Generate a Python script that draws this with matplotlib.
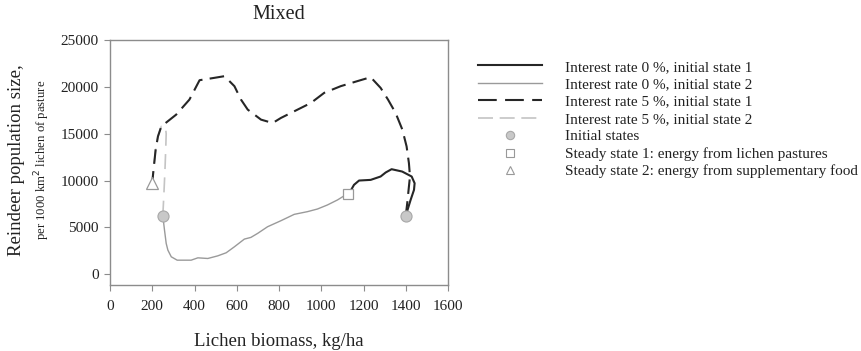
import matplotlib
matplotlib.use("Agg")
import matplotlib.pyplot as plt
from matplotlib.lines import Line2D

plt.rcParams['font.family'] = ['Liberation Serif', 'DejaVu Serif']

# Interest rate 0 %, initial state 1 (black solid)
r0s1_x = [1400, 1423, 1439, 1442, 1428, 1383, 1333, 1305, 1281, 1234, 1179, 1155, 1137, 1125]
r0s1_y = [6250, 7930, 9000, 9710, 10430, 10960, 11210, 10860, 10430, 10070, 10000, 9540, 8820, 8600]

# Interest rate 0 %, initial state 2 (gray solid)
r0s2_x = [250, 258, 266, 274, 290, 318, 384, 416, 463, 510, 550, 589, 636, 667, 699, 746,
          809, 872, 935, 982, 1029, 1077, 1125]
r0s2_y = [6250, 4710, 3290, 2570, 1860, 1500, 1500, 1750, 1680, 1960, 2290, 2930, 3750, 3930,
          4360, 5070, 5710, 6390, 6680, 6960, 7390, 7930, 8600]

# Interest rate 5 %, initial state 1 (black dashed)
r5s1_x = [1400, 1407, 1415, 1420, 1415, 1404, 1384, 1352, 1316, 1281, 1234, 1171, 1092, 1014,
          951, 872, 809, 770, 715, 652, 620, 589, 542, 494, 424, 376, 313, 243, 227, 216, 206, 200]
r5s1_y = [6250, 7570, 9360, 10430, 11860, 13640, 15430, 17210, 18640, 19890, 21030, 20610,
          20070, 19360, 18280, 17390, 16680, 16140, 16500, 17570, 18640, 20070, 21140, 20960,
          20710, 18640, 17030, 15780, 14710, 13280, 11140, 9790]

# Interest rate 5 %, initial state 2 (gray dashed)
r5s2_x = [250, 255, 260, 264, 266, 262, 243, 227, 216, 206, 200]
r5s2_y = [6250, 8500, 11000, 13500, 15000, 15800, 15780, 14710, 13280, 11140, 9790]

initial_x = [1400, 250]
initial_y = [6250, 6250]
steady1_x = [1125]
steady1_y = [8600]
steady2_x = [200]
steady2_y = [9790]

fig = plt.figure(figsize=(8.61, 3.51), dpi=100)
ax = fig.add_axes([110/861, 1-285/351, (448-110)/861, (285-40)/351])

c_black = '#262626'
c_gray = '#9a9a9a'
c_lgray = '#c4c4c4'

ax.plot(r5s2_x, r5s2_y, color=c_lgray, lw=1.2, dashes=(9, 5))
ax.plot(r0s2_x, r0s2_y, color=c_gray, lw=1.0)
ax.plot(r5s1_x, r5s1_y, color=c_black, lw=1.5, dashes=(7, 3.5))
ax.plot(r0s1_x, r0s1_y, color=c_black, lw=1.5)
ax.plot(initial_x, initial_y, 'o', ms=8, mfc='#c8c8c8', mec='#a8a8a8', mew=0.8, zorder=5)
ax.plot(steady1_x, steady1_y, 's', ms=7, mfc='white', mec='#999999', mew=0.9, zorder=5)
ax.plot(steady2_x, steady2_y, '^', ms=8, mfc='white', mec='#999999', mew=0.9, zorder=5)

ax.set_xlim(0, 1600)
ax.set_ylim(-1150, 25000)
ax.set_xticks(range(0, 1601, 200))
ax.set_yticks(range(0, 25001, 5000))
for s in ax.spines.values():
    s.set_color('#8c8c8c')
    s.set_linewidth(1.0)
ax.tick_params(direction='out', length=4, color='#8c8c8c', labelsize=11, labelcolor='#222222')
ax.tick_params(axis='x', pad=7)
ax.tick_params(axis='y', pad=4)

ax.set_title('Mixed', fontsize=14.5, color='#222222', pad=15)
ax.set_xlabel('Lichen biomass, kg/ha', fontsize=13.5, color='#222222', labelpad=14)
fig.text(17/861, 1-160/351, 'Reindeer population size,', rotation=90, ha='center', va='center',
         fontsize=13.5, color='#222222')
fig.text(42/861, 1-160/351, 'per 1000 km$^2$ lichen of pasture', rotation=90, ha='center',
         va='center', fontsize=9.2, color='#222222')

handles = [
    Line2D([], [], color=c_black, lw=1.5),
    Line2D([], [], color=c_gray, lw=1.0),
    Line2D([], [], color=c_black, lw=1.5, dashes=(9, 4)),
    Line2D([], [], color=c_lgray, lw=1.2, dashes=(9, 4)),
    Line2D([], [], ls='none', marker='o', ms=6, mfc='#c8c8c8', mec='#a8a8a8', mew=0.8),
    Line2D([], [], ls='none', marker='s', ms=5.5, mfc='white', mec='#999999', mew=0.8),
    Line2D([], [], ls='none', marker='^', ms=6, mfc='white', mec='#999999', mew=0.8),
]
labels = ['Interest rate 0 %, initial state 1',
          'Interest rate 0 %, initial state 2',
          'Interest rate 5 %, initial state 1',
          'Interest rate 5 %, initial state 2',
          'Initial states',
          'Steady state 1: energy from lichen pastures',
          'Steady state 2: energy from supplementary food']
leg = fig.legend(handles, labels, loc='upper left', bbox_to_anchor=(478/861, 1-60/351),
                 frameon=False, fontsize=11, handlelength=4.2, handletextpad=1.5,
                 labelspacing=0.245, borderaxespad=0, borderpad=0)
for t in leg.get_texts():
    t.set_color('#222222')

fig.savefig('out.png', dpi=100)
